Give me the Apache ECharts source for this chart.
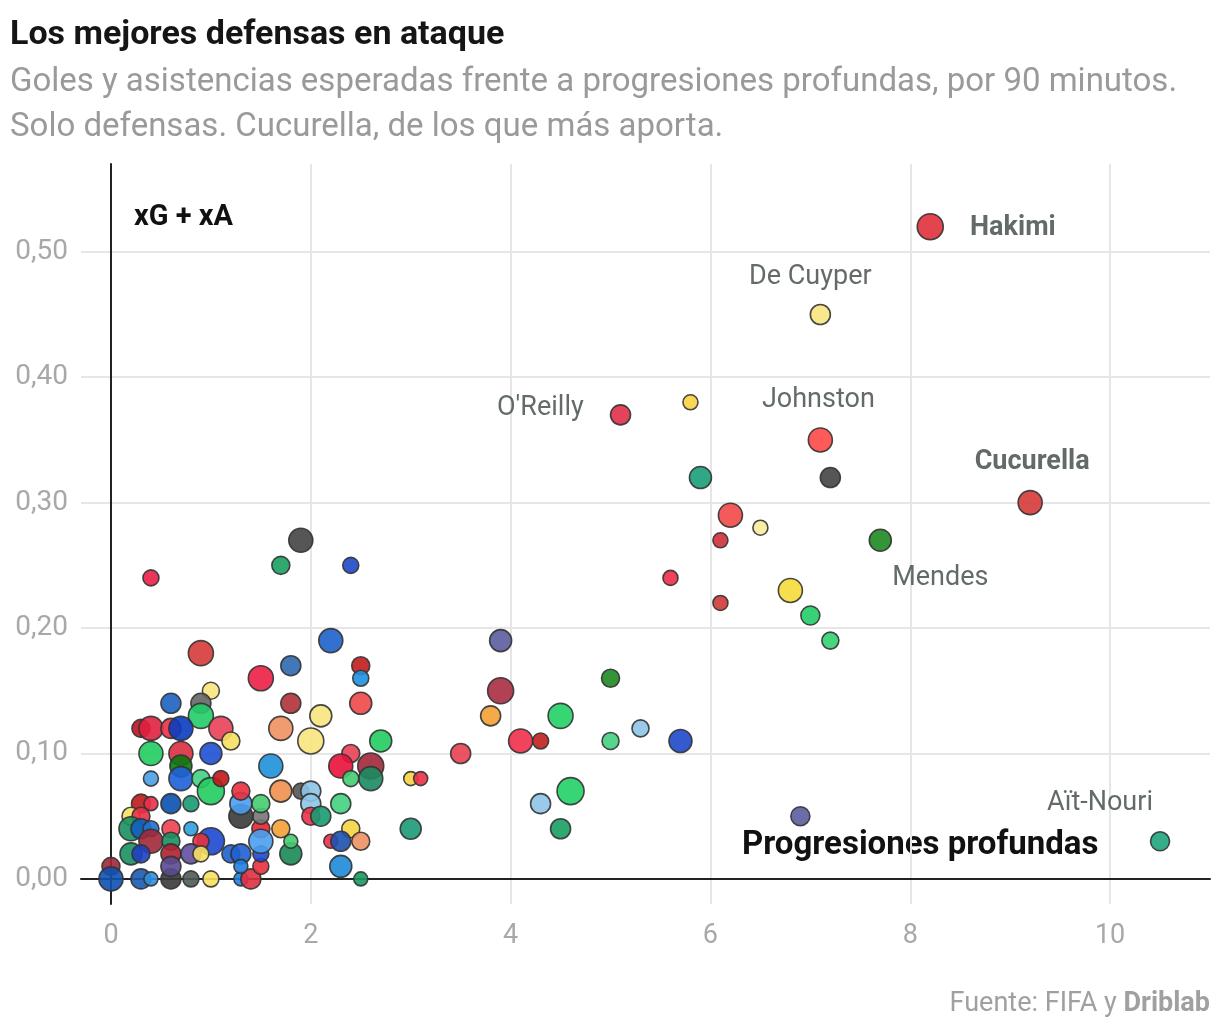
<!DOCTYPE html>
<html>
<head>
<meta charset="utf-8">
<title>Los mejores defensas en ataque</title>
<script src="https://cdn.jsdelivr.net/npm/echarts@6/dist/echarts.min.js"></script>
<style>
  html, body { margin: 0; padding: 0; background: #fff; }
  #defensas { width: 1220px; height: 1034px; }
</style>
</head>
<body>
<div id="defensas"></div>
<script>
// Progresiones profundas por 90' (eje x)
var progresiones = [
  8.2, 7.1, 5.8, 5.1, 7.1, 5.9, 7.2, 9.2, 6.2, 6.5, 6.1, 7.7, 5.6, 6.1, 6.8, 7.0, 7.2, 10.5, 6.9,
  3.9, 3.9, 3.8, 5.0, 4.5, 4.1, 4.3, 5.0, 5.3, 5.7, 3.5, 3.0, 3.1, 3.0, 4.3, 4.6, 4.5,
  1.9, 1.7, 2.4, 2.2, 1.8, 1.5, 2.5, 2.5, 2.5, 1.8, 0.9, 1.0, 2.1, 0.4, 0.6, 0.9, 0.9,
  0.3, 0.4, 0.6, 0.7, 1.1, 1.2, 0.4, 0.7, 1.0, 0.7, 0.7, 0.4, 0.9, 1.0, 1.1,
  0.3, 0.4, 0.6, 0.8, 0.2, 0.3, 0.2, 0.3, 0.4, 0.4, 0.6, 0.6, 0.8, 1.0, 0.9,
  0.6, 0.8, 0.2, 0.3, 0.9, 1.2, 1.3, 0.0, 0.0, 0.3, 0.4, 0.6, 0.6, 0.8, 1.0,
  1.3, 1.4, 1.3, 1.5, 1.5, 1.5, 1.5, 1.5, 1.3, 1.3, 1.5, 1.3, 1.7, 1.7, 1.6, 1.7, 1.8,
  2.0, 2.7, 2.4, 2.3, 2.6, 2.6, 2.4, 1.9, 2.0, 2.0, 2.3, 2.0, 2.1, 2.4, 2.5, 2.2, 2.3,
  2.3, 2.5, 1.8
];
// xG + xA por 90' (eje y)
var xgxa = [
  0.52, 0.45, 0.38, 0.37, 0.35, 0.32, 0.32, 0.30, 0.29, 0.28, 0.27, 0.27, 0.24, 0.22, 0.23, 0.21, 0.19, 0.03, 0.05,
  0.19, 0.15, 0.13, 0.16, 0.13, 0.11, 0.11, 0.11, 0.12, 0.11, 0.10, 0.08, 0.08, 0.04, 0.06, 0.07, 0.04,
  0.27, 0.25, 0.25, 0.19, 0.17, 0.16, 0.17, 0.16, 0.14, 0.14, 0.18, 0.15, 0.13, 0.24, 0.14, 0.14, 0.13,
  0.12, 0.12, 0.12, 0.12, 0.12, 0.11, 0.10, 0.10, 0.10, 0.09, 0.08, 0.08, 0.08, 0.07, 0.08,
  0.06, 0.06, 0.06, 0.06, 0.05, 0.05, 0.04, 0.04, 0.04, 0.03, 0.04, 0.03, 0.04, 0.03, 0.03,
  0.02, 0.02, 0.02, 0.02, 0.02, 0.02, 0.02, 0.01, 0.00, 0.00, 0.00, 0.00, 0.01, 0.00, 0.00,
  0.00, 0.00, 0.01, 0.01, 0.02, 0.04, 0.03, 0.05, 0.05, 0.06, 0.06, 0.07, 0.07, 0.12, 0.09, 0.04, 0.02,
  0.11, 0.11, 0.10, 0.09, 0.09, 0.08, 0.08, 0.07, 0.07, 0.06, 0.06, 0.05, 0.05, 0.04, 0.03, 0.03, 0.03,
  0.01, 0.00, 0.03
];
// diametro de cada burbuja
var tamanos = [
  26, 20, 15, 20, 24, 22, 20, 24, 24, 15, 15, 22, 15, 15, 24, 19, 17, 19, 19,
  22, 26, 20, 18, 25, 24, 16, 17, 17, 23, 20, 14, 14, 21, 20, 27, 20,
  24, 18, 16, 24, 20, 25, 18, 16, 22, 20, 25, 17, 22, 16, 20, 20, 25,
  18, 24, 20, 24, 24, 18, 24, 24, 22, 22, 24, 15, 18, 27, 16,
  19, 14, 20, 16, 18, 18, 24, 20, 16, 24, 18, 18, 14, 27, 16,
  20, 20, 22, 18, 16, 18, 20, 18, 24, 20, 14, 20, 20, 16, 16,
  14, 20, 14, 16, 16, 18, 24, 16, 24, 22, 18, 18, 22, 24, 24, 18, 22,
  26, 22, 18, 24, 26, 24, 16, 16, 20, 20, 20, 18, 20, 18, 18, 14, 20,
  22, 14, 14
];
// color del equipo
var colores = [
  '#e0303a', '#f8e47e', '#f5d442', '#e0304a', '#ff4848', '#1a9e78', '#444444', '#d63a3a', '#f24848', '#faec9a',
  '#d0303a', '#1e8a22', '#ee2e48', '#d03838', '#f5dc3a', '#22cc66', '#33d070', '#1ea47e', '#5c5c9e',
  '#5c5c9e', '#a82c40', '#f5a035', '#1e8a22', '#22d066', '#f0304a', '#c0201f', '#44d080', '#8ec4e8', '#1e48c8',
  '#e84050', '#f5d442', '#ec3048', '#1a9a78', '#8ec4e8', '#22d066', '#1aa060',
  '#444444', '#1aa060', '#1e48c8', '#1e60c8', '#2e68b0', '#ec1e45', '#c01c1c', '#1e90e0', '#f04848', '#b03038',
  '#d63a3a', '#f8e47e', '#f8e47e', '#e82048', '#1e60c0', '#666666', '#22cc66',
  '#c01020', '#e02040', '#ec3048', '#0a3cc0', '#e84058', '#f8e060', '#22cc60', '#d83040', '#1e50d0', '#0a7a10',
  '#1e60d8', '#4aa0e8', '#44d080', '#22cc60', '#c01818',
  '#c01818', '#ec3048', '#0a50b0', '#1a9a70', '#f8e060', '#ec3048', '#1a9060', '#1060c0', '#2070d0', '#a02838',
  '#f04050', '#1a9060', '#30a0e0', '#1c48d0', '#e83040',
  '#b02030', '#6050a0', '#1a9060', '#1e40c0', '#f8e060', '#1e60d0', '#1e60d0', '#a02838', '#1050b0', '#1a5ab0',
  '#3090e0', '#3a3a3a', '#5a4a90', '#505a55', '#f8e060',
  '#2080e0', '#e03040', '#2080e0', '#e83040', '#1e48d0', '#f02030', '#4aa0f0', '#777777', '#3a3a3a', '#4aa0f0',
  '#44cc70', '#e83040', '#f09050', '#f09060', '#1e90d8', '#f5a035', '#1a8a55',
  '#f8e480', '#22cc60', '#e84058', '#e8103a', '#a02838', '#1a8a60', '#44cc70', '#555555', '#8ec4e8', '#8ec4e8',
  '#44d080', '#ec3048', '#1a9a70', '#f5d442', '#f09060', '#ec3048', '#1e50b0',
  '#1e88d8', '#1a9a60', '#44cc70'
];
// jugadores destacados (indice en las listas de arriba)
var nombres = ['Hakimi', 'De Cuyper', "O'Reilly", 'Johnston', 'Cucurella', 'Mendes', 'Aït-Nouri'];
var indicesNombres = [0, 1, 3, 4, 7, 11, 17];
var negritas = ['Hakimi', 'Cucurella'];

var ticksX = [0, 2, 4, 6, 8, 10];
var ticksY = [0, 0.1, 0.2, 0.3, 0.4, 0.5];

var fuente = 'Roboto, "Noto Sans", sans-serif';

// donde va cada etiqueta respecto a su burbuja
var posiciones = {
  'Hakimi': { position: 'right', distance: 26, offset: [0, 2] },
  'De Cuyper': { position: 'top', distance: 13, offset: [-10, 0] },
  "O'Reilly": { position: 'left', distance: 26, offset: [0, -7] },
  'Johnston': { position: 'top', distance: 13, offset: [-2, 0] },
  'Cucurella': { position: 'top', distance: 14, offset: [2, 0] },
  'Mendes': { position: 'bottom', distance: 13, offset: [60, 0] },
  'Aït-Nouri': { position: 'top', distance: 14, offset: [-60, 0] }
};

var puntos = progresiones.map(function (x, i) {
  var item = {
    value: [x, xgxa[i]],
    symbolSize: tamanos[i],
    itemStyle: { color: colores[i] }
  };
  var k = indicesNombres.indexOf(i);
  if (k >= 0) {
    var nombre = nombres[k];
    var p = posiciones[nombre];
    item.label = {
      show: true,
      formatter: nombre,
      position: p.position,
      distance: p.distance,
      offset: p.offset,
      color: '#525b59',
      fontFamily: fuente,
      fontSize: 27,
      fontWeight: negritas.indexOf(nombre) >= 0 ? 'bold' : 'normal'
    };
  }
  return item;
});

var chart = echarts.init(document.getElementById('defensas'));

var option = {
  backgroundColor: '#fff',
  animation: false,
  title: {
    text: 'Los mejores defensas en ataque',
    subtext: 'Goles y asistencias esperadas frente a progresiones profundas, por 90 minutos.\nSolo defensas. Cucurella, de los que más aporta.',
    left: 5,
    top: 13,
    itemGap: 8,
    textStyle: { fontFamily: fuente, fontSize: 34, fontWeight: 'bold', color: '#151515' },
    subtextStyle: { fontFamily: fuente, fontSize: 33, color: '#9a9a9a', lineHeight: 45 }
  },
  grid: { left: 81, right: 10, top: 164, bottom: 130, containLabel: false, outerBoundsMode: 'none' },
  xAxis: {
    type: 'value',
    min: -0.3,
    max: 11,
    axisLine: { show: true, onZero: true, lineStyle: { color: '#222', width: 2 } },
    axisTick: { show: false, customValues: ticksX },
    axisLabel: {
      customValues: ticksX,
      margin: 19,
      fontFamily: fuente,
      fontSize: 27,
      color: '#a8a8a8'
    },
    splitLine: { show: true, lineStyle: { color: '#e6e6e6', width: 2 } }
  },
  yAxis: {
    type: 'value',
    min: -0.02,
    max: 0.57,
    axisLine: { show: true, onZero: true, lineStyle: { color: '#222', width: 2 } },
    axisTick: { show: false, customValues: ticksY },
    axisLabel: {
      customValues: ticksY,
      margin: 13,
      fontFamily: fuente,
      fontSize: 28,
      color: '#a8a8a8',
      formatter: function (v) { return v.toFixed(2).replace('.', ','); }
    },
    splitLine: { show: true, lineStyle: { color: '#e6e6e6', width: 2 } }
  },
  graphic: [
    {
      type: 'text', left: 134, top: 203,
      style: { text: 'xG + xA', font: 'bold 29px Roboto, sans-serif', fill: '#111' }
    },
    {
      type: 'text', left: 742, top: 829,
      style: { text: 'Progresiones profundas', font: 'bold 33px Roboto, sans-serif', fill: '#111' }
    },
    {
      type: 'text', right: 10, top: 991,
      style: {
        text: '{a|Fuente: FIFA y }{b|Driblab}',
        rich: {
          a: { fontFamily: fuente, fontSize: 27, fill: '#a0a0a0' },
          b: { fontFamily: fuente, fontSize: 27, fontWeight: 'bold', fill: '#a0a0a0' }
        }
      }
    }
  ],
  series: [
    {
      name: 'Defensas',
      type: 'scatter',
      clip: false,
      data: puntos,
      itemStyle: { opacity: 0.9, borderColor: '#333', borderWidth: 1.6 },
      emphasis: { disabled: true }
    }
  ]
};

chart.setOption(option);
</script>
</body>
</html>
